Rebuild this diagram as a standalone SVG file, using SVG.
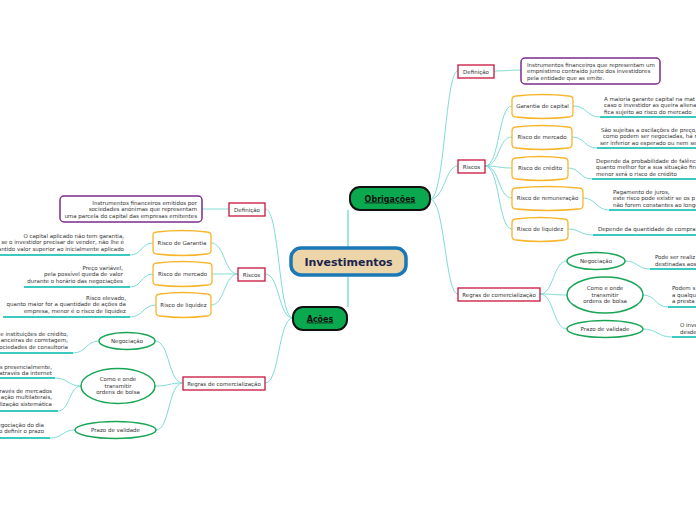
<svg xmlns="http://www.w3.org/2000/svg" width="696" height="520" viewBox="0 0 696 520">
<style>
text{font-family:"DejaVu Sans","Liberation Sans",sans-serif;fill:#333}
.s{font-size:5.5px}
.c{text-anchor:middle}
.e{text-anchor:end}
.conn{fill:none;stroke:#7fdcd6;stroke-width:1}
.ul{fill:none;stroke:#3cc9c0;stroke-width:2}
.red{fill:#fff;stroke:#c8143c;stroke-width:1.3}
.pur{fill:#fff;stroke:#7a2e8e;stroke-width:1.5}
.org{fill:#fff;stroke:#f7b52c;stroke-width:1.3}
.grn{fill:#fff;stroke:#1aa556;stroke-width:1.5}
.main{fill:#0aa84f;stroke:#111;stroke-width:2}
.mt{font-size:8px;font-weight:bold;text-decoration:underline;fill:#111}
</style>
<g id="connectors">
<path class="conn" d="M348 248 L348 210" style="stroke-width:1.5"/>
<path class="conn" d="M348 275 L348 307" style="stroke-width:1.5"/>
<path class="conn" d="M430 199 C445 199 445 71 458 71"/>
<path class="conn" d="M430 199 C445 199 445 166 458 166"/>
<path class="conn" d="M430 199 C445 199 445 294 458 294"/>
<path class="conn" d="M494 71 C508 71 508 70 521 70"/>
<path class="conn" d="M485 166 C500 166 498 106 512 106"/>
<path class="conn" d="M485 166 C500 166 498 137 512 137"/>
<path class="conn" d="M485 166 C500 166 498 168 512 168"/>
<path class="conn" d="M485 166 C500 166 498 198 512 198"/>
<path class="conn" d="M485 166 C500 166 498 229 512 229"/>
<path class="conn" d="M573 106 C588 106 586 117 600 117"/><path class="ul" d="M600 117 L696 117"/>
<path class="conn" d="M572 137 C585 137 584 148 597 148"/><path class="ul" d="M597 148 L696 148"/>
<path class="conn" d="M568 168 C580 168 580 179 592 179"/><path class="ul" d="M592 179 L696 179"/>
<path class="conn" d="M583 198 C596 198 596 210 609 210"/><path class="ul" d="M609 210 L696 210"/>
<path class="conn" d="M568 229 C580 229 580 235 593 235"/><path class="ul" d="M593 235 L696 235"/>
<path class="conn" d="M540 294 C554 294 553 261 567 261"/>
<path class="conn" d="M540 294 C554 294 553 295 567 295"/>
<path class="conn" d="M540 294 C554 294 553 329 567 329"/>
<path class="conn" d="M625 261 C638 261 637 269 650 269"/><path class="ul" d="M650 269 L696 269"/>
<path class="conn" d="M643 295 C656 295 655 307 668 307"/><path class="ul" d="M668 307 L696 307"/>
<path class="conn" d="M643 329 C657 329 658 337 672 337"/><path class="ul" d="M672 337 L696 337"/>
<path class="conn" d="M293 318 C278 318 280 209 265 209"/>
<path class="conn" d="M293 318 C278 318 280 274 265 274"/>
<path class="conn" d="M293 318 C278 318 280 383 265 383"/>
<path class="conn" d="M229 209 C216 209 215 209 202 209"/>
<path class="conn" d="M238 274 C224 274 225 243 211 243"/>
<path class="conn" d="M238 274 C224 274 225 274 212 274"/>
<path class="conn" d="M238 274 C224 274 225 305 211 305"/>
<path class="conn" d="M153 243 C141 243 142 255 130 255"/><path class="ul" d="M130 255 L0 255"/>
<path class="conn" d="M153 274 C141 274 142 287 130 287"/><path class="ul" d="M130 287 L24 287"/>
<path class="conn" d="M156 305 C143 305 143 317 130 317"/><path class="ul" d="M130 317 L3 317"/>
<path class="conn" d="M183 383 C168 383 170 341 155 341"/>
<path class="conn" d="M183 383 C168 383 170 386 155 386"/>
<path class="conn" d="M183 383 C168 383 170 430 156 430"/>
<path class="conn" d="M99 341 C86 341 86 353 73 353"/><path class="ul" d="M73 353 L0 353"/>
<path class="conn" d="M81 386 C68 386 68 378 55 378"/><path class="ul" d="M55 378 L0 378"/>
<path class="conn" d="M81 386 C69 386 70 411 58 411"/><path class="ul" d="M58 411 L0 411"/>
<path class="conn" d="M75 430 C62 430 63 438 50 438"/><path class="ul" d="M50 438 L0 438"/>
</g>
<g id="investimentos">
<rect x="291" y="248" width="115" height="27" rx="10" fill="#ecd5a8" stroke="#1a78b6" stroke-width="3.5"/>
<text x="348.5" y="265.5" class="c" style="font-size:11px;font-weight:bold;fill:#1b2350">Investimentos</text>
</g>
<g id="obrigacoes">
<rect x="350" y="187" width="80" height="23" rx="10" class="main"/>
<text x="390" y="201.5" class="c mt">Obrigações</text>
</g>
<g id="acoes">
<rect x="293" y="307" width="54" height="23" rx="10" class="main"/>
<text x="320" y="321.5" class="c mt">Ações</text>
</g>
<g id="r-definicao">
<rect x="458" y="65" width="36" height="13" class="red"/>
<text x="476" y="73.5" class="c s">Definição</text>
</g>
<g id="r-definicao-txt">
<rect x="521" y="58" width="139" height="26" rx="4" class="pur"/>
<text x="527" y="67" class="s">Instrumentos financeiros que representam um</text>
<text x="527" y="73.3" class="s">empréstimo contraído junto dos investidores</text>
<text x="527" y="79.6" class="s">pela entidade que as emite.</text>
</g>
<g id="r-riscos">
<rect x="458" y="160" width="27" height="13" class="red"/>
<text x="471.5" y="168.5" class="c s">Riscos</text>
</g>
<g id="r-garantia">
<path class="org" d="M516 96 Q542.5 93 569 96 Q573 96 573 100 L573 113 Q573 117 569 117 Q542.5 120 516 117 Q512 117 512 113 L512 100 Q512 96 516 96 Z"/>
<text x="542.5" y="108.3" class="c s">Garantia de capital</text>
<text x="604" y="101" class="s">A maioria garante capital na mat</text>
<text x="604" y="107.3" class="s">caso o investidor as queira aliena</text>
<text x="604" y="113.6" class="s">fica sujeito ao risco do mercado</text>
</g>
<g id="r-mercado">
<path class="org" d="M516 127 Q542 124 568 127 Q572 127 572 131 L572 144 Q572 148 568 148 Q542 151 516 148 Q512 148 512 144 L512 131 Q512 127 516 127 Z"/>
<text x="542" y="139.3" class="c s">Risco de mercado</text>
<text x="601" y="132" class="s">São sujeitas a oscilações de preço,</text>
<text x="603" y="138.3" class="s">como podem ser negociadas, há ri</text>
<text x="600" y="144.6" class="s">ser inferior ao esperado ou nem se</text>
</g>
<g id="r-credito">
<path class="org" d="M516 158 Q540 155 564 158 Q568 158 568 162 L568 175 Q568 179 564 179 Q540 182 516 179 Q512 179 512 175 L512 162 Q512 158 516 158 Z"/>
<text x="540" y="170.3" class="c s">Risco de crédito</text>
<text x="596" y="163" class="s">Depende da probabilidade de falênci</text>
<text x="596" y="169.3" class="s">quanto melhor for a sua situação fin</text>
<text x="596" y="175.6" class="s">menor será o risco de crédito</text>
</g>
<g id="r-remuneracao">
<path class="org" d="M516 188 Q547.5 185 579 188 Q583 188 583 192 L583 205 Q583 209 579 209 Q547.5 212 516 209 Q512 209 512 205 L512 192 Q512 188 516 188 Z"/>
<text x="547.5" y="200.3" class="c s">Risco de remuneração</text>
<text x="613" y="194" class="s">Pagamento de juros,</text>
<text x="613" y="200.3" class="s">este risco pode existir se os p</text>
<text x="613" y="206.6" class="s">não forem constantes ao longo</text>
</g>
<g id="r-liquidez">
<path class="org" d="M516 219 Q540 216 564 219 Q568 219 568 223 L568 236 Q568 240 564 240 Q540 243 516 240 Q512 240 512 236 L512 223 Q512 219 516 219 Z"/>
<text x="540" y="231.3" class="c s">Risco de liquidez</text>
<text x="598" y="231" class="s">Depende da quantidade de compra</text>
</g>
<g id="r-regras">
<rect x="458" y="288" width="82" height="13" class="red"/>
<text x="499" y="296.5" class="c s">Regras de comercialização</text>
</g>
<g id="r-negociacao">
<ellipse cx="596" cy="261" rx="29" ry="8.5" class="grn"/>
<text x="596" y="263" class="c s">Negociação</text>
<text x="655" y="259" class="s">Pode ser realiz</text>
<text x="655" y="265.5" class="s">destinadas aos</text>
</g>
<g id="r-como">
<ellipse cx="605" cy="295" rx="38" ry="18" class="grn"/>
<text x="605" y="290" class="c s">Como e onde</text>
<text x="605" y="296.5" class="c s">transmitir</text>
<text x="605" y="303" class="c s">ordens de bolsa</text>
<text x="672" y="290" class="s">Podem s</text>
<text x="672" y="296.5" class="s">a qualqu</text>
<text x="672" y="303" class="s">a presta</text>
</g>
<g id="r-prazo">
<ellipse cx="605" cy="329" rx="38" ry="8.5" class="grn"/>
<text x="605" y="331" class="c s">Prazo de validade</text>
<text x="680" y="327" class="s">O inve</text>
<text x="680" y="333.5" class="s">desde</text>
</g>
<g id="l-definicao">
<rect x="229" y="203" width="36" height="13" class="red"/>
<text x="247" y="211.5" class="c s">Definição</text>
</g>
<g id="l-definicao-txt">
<rect x="60" y="196" width="142" height="26" rx="4" class="pur"/>
<text x="197" y="205" class="e s">Instrumentos financeiros emitidos por</text>
<text x="197" y="211.3" class="e s">sociedades anónimas que representam</text>
<text x="197" y="217.6" class="e s">uma parcela do capital das empresas emitentes</text>
</g>
<g id="l-riscos">
<rect x="238" y="268" width="27" height="13" class="red"/>
<text x="251.5" y="276.5" class="c s">Riscos</text>
</g>
<g id="l-garantia">
<path class="org" d="M157 232 Q182 229 207 232 Q211 232 211 236 L211 250 Q211 254 207 254 Q182 257 157 254 Q153 254 153 250 L153 236 Q153 232 157 232 Z"/>
<text x="182" y="245" class="c s">Risco de Garantia</text>
<text x="124" y="238" class="e s">O capital aplicado não tem garantia,</text>
<text x="124" y="244.3" class="e s">se o investidor precisar de vender, não lhe é</text>
<text x="124" y="250.6" class="e s">antido valor superior ao inicialmente aplicado</text>
</g>
<g id="l-mercado">
<path class="org" d="M157 263 Q182.5 260 208 263 Q212 263 212 267 L212 281 Q212 285 208 285 Q182.5 288 157 285 Q153 285 153 281 L153 267 Q153 263 157 263 Z"/>
<text x="182.5" y="276" class="c s">Risco de mercado</text>
<text x="123" y="270" class="e s">Preço variável,</text>
<text x="123" y="276.3" class="e s">pela possível queda de valor</text>
<text x="123" y="282.6" class="e s">durante o horário das negociações</text>
</g>
<g id="l-liquidez">
<path class="org" d="M160 294 Q183.5 291 207 294 Q211 294 211 298 L211 312 Q211 316 207 316 Q183.5 319 160 316 Q156 316 156 312 L156 298 Q156 294 160 294 Z"/>
<text x="183.5" y="307" class="c s">Risco de liquidez</text>
<text x="126" y="300" class="e s">Risco elevado,</text>
<text x="126" y="306.3" class="e s">quanto maior for a quantidade de ações da</text>
<text x="126" y="312.6" class="e s">empresa, menor é o risco de liquidez</text>
</g>
<g id="l-regras">
<rect x="183" y="377" width="82" height="13" class="red"/>
<text x="224" y="385.5" class="c s">Regras de comercialização</text>
</g>
<g id="l-negociacao">
<ellipse cx="127" cy="341" rx="28" ry="8.5" class="grn"/>
<text x="127" y="343" class="c s">Negociação</text>
<text x="68" y="336" class="e s">e instituições de crédito,</text>
<text x="68" y="342.3" class="e s">anceiras de corretagem,</text>
<text x="68" y="348.6" class="e s">ociedades de consultoria</text>
</g>
<g id="l-como">
<ellipse cx="118" cy="386" rx="37" ry="17.5" class="grn"/>
<text x="118" y="381" class="c s">Como e onde</text>
<text x="118" y="387.5" class="c s">transmitir</text>
<text x="118" y="394" class="c s">ordens de bolsa</text>
<text x="52" y="369" class="e s">s presencialmente,</text>
<text x="52" y="375.3" class="e s">através da internet</text>
<text x="52" y="393" class="e s">ravés de mercados</text>
<text x="52" y="399.3" class="e s">ação multilaterais,</text>
<text x="52" y="405.6" class="e s">lização sistemática</text>
</g>
<g id="l-prazo">
<ellipse cx="115.5" cy="430" rx="40.5" ry="8.5" class="grn"/>
<text x="115.5" y="432" class="c s">Prazo de validade</text>
<text x="44" y="427" class="e s">egociação do dia</text>
<text x="44" y="433.3" class="e s">o definir o prazo</text>
</g>
</svg>
